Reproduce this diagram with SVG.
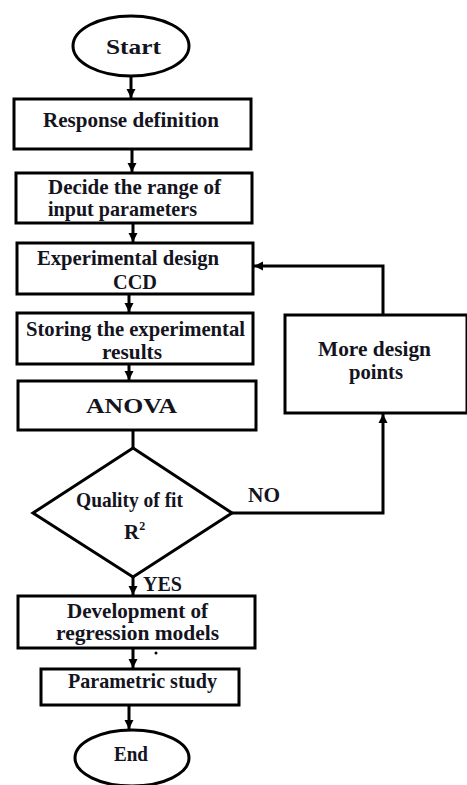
<svg xmlns="http://www.w3.org/2000/svg" width="467" height="785" viewBox="0 0 467 785">
<style>
.box{fill:#fff;stroke:#000;stroke-width:3}
.ln{fill:none;stroke:#000;stroke-width:3}
.t{font-family:"Liberation Serif","Times New Roman",serif;font-weight:bold;font-size:21px;fill:#14141e}
</style>
<defs>
<marker id="ah" markerUnits="userSpaceOnUse" markerWidth="10" markerHeight="10" refX="9" refY="5" orient="auto">
<path d="M0,0.5 L9,5 L0,9.5 Z" fill="#000"/>
</marker>
</defs>
<rect width="467" height="785" fill="#fff"/>
<g id="connectors">
<path class="ln" d="M131,77 V98" marker-end="url(#ah)"/>
<path class="ln" d="M132,150 V172" marker-end="url(#ah)"/>
<path class="ln" d="M133,224 V242" marker-end="url(#ah)"/>
<path class="ln" d="M129,295 V312" marker-end="url(#ah)"/>
<path class="ln" d="M129,365 V380" marker-end="url(#ah)"/>
<path class="ln" d="M133,431 V448"/>
<path class="ln" d="M133,577 V595" marker-end="url(#ah)"/>
<path class="ln" d="M133,649 V668" marker-end="url(#ah)"/>
<path class="ln" d="M129,706 V729" marker-end="url(#ah)"/>
<path class="ln" d="M232,513 H383 V414" marker-end="url(#ah)"/>
<path class="ln" d="M383,315 V266 H254" marker-end="url(#ah)"/>
<text class="t" x="248" y="502" font-size="20" textLength="32" lengthAdjust="spacingAndGlyphs">NO</text>
<text class="t" x="143" y="591" font-size="20" textLength="39" lengthAdjust="spacingAndGlyphs">YES</text>
</g>
<g id="start">
<ellipse class="box" cx="131" cy="46" rx="58" ry="30"/>
<text class="t" x="106" y="54" font-size="24" textLength="55" lengthAdjust="spacingAndGlyphs">Start</text>
</g>
<g id="response">
<rect class="box" x="14" y="99" width="237" height="50"/>
<text class="t" x="43" y="127" textLength="176" lengthAdjust="spacingAndGlyphs">Response definition</text>
</g>
<g id="decide">
<rect class="box" x="16" y="173" width="236" height="50"/>
<text class="t" x="48" y="194" textLength="173" lengthAdjust="spacingAndGlyphs">Decide the range of</text>
<text class="t" x="48" y="216" textLength="149" lengthAdjust="spacingAndGlyphs">input parameters</text>
</g>
<g id="experimental">
<rect class="box" x="17" y="243" width="236" height="51"/>
<text class="t" x="37" y="265" textLength="182" lengthAdjust="spacingAndGlyphs">Experimental design</text>
<text class="t" x="113" y="289" textLength="44" lengthAdjust="spacingAndGlyphs">CCD</text>
</g>
<g id="storing">
<rect class="box" x="17" y="313" width="236" height="51"/>
<text class="t" x="26" y="336" font-size="19" textLength="219" lengthAdjust="spacingAndGlyphs">Storing the experimental</text>
<text class="t" x="102" y="359" font-size="19" textLength="60" lengthAdjust="spacingAndGlyphs">results</text>
</g>
<g id="anova">
<rect class="box" x="18" y="381" width="238" height="49"/>
<text class="t" x="86" y="413" font-size="24" textLength="91" lengthAdjust="spacingAndGlyphs">ANOVA</text>
</g>
<g id="quality">
<polygon class="box" points="133,448 232,513 133,577 33,513"/>
<text class="t" x="76" y="507" font-size="19" textLength="107" lengthAdjust="spacingAndGlyphs">Quality of fit</text>
<text class="t" x="124" y="539" font-size="20">R<tspan font-size="12" dy="-9">2</tspan></text>
</g>
<g id="more">
<rect class="box" x="285" y="315" width="182" height="98"/>
<text class="t" x="318" y="356" textLength="113" lengthAdjust="spacingAndGlyphs">More design</text>
<text class="t" x="349" y="379" textLength="54" lengthAdjust="spacingAndGlyphs">points</text>
</g>
<g id="development">
<rect class="box" x="18" y="596" width="237" height="52"/>
<text class="t" x="67" y="618" textLength="141" lengthAdjust="spacingAndGlyphs">Development of</text>
<text class="t" x="56" y="640" textLength="163" lengthAdjust="spacingAndGlyphs">regression models</text>
<circle cx="156" cy="653" r="1.5" fill="#000"/>
</g>
<g id="parametric">
<rect class="box" x="41" y="669" width="198" height="36"/>
<text class="t" x="68" y="688" textLength="149" lengthAdjust="spacingAndGlyphs">Parametric study</text>
</g>
<g id="end">
<ellipse class="box" cx="132" cy="758" rx="57" ry="28"/>
<text class="t" x="114" y="761" font-size="23" textLength="34" lengthAdjust="spacingAndGlyphs">End</text>
</g>
</svg>
